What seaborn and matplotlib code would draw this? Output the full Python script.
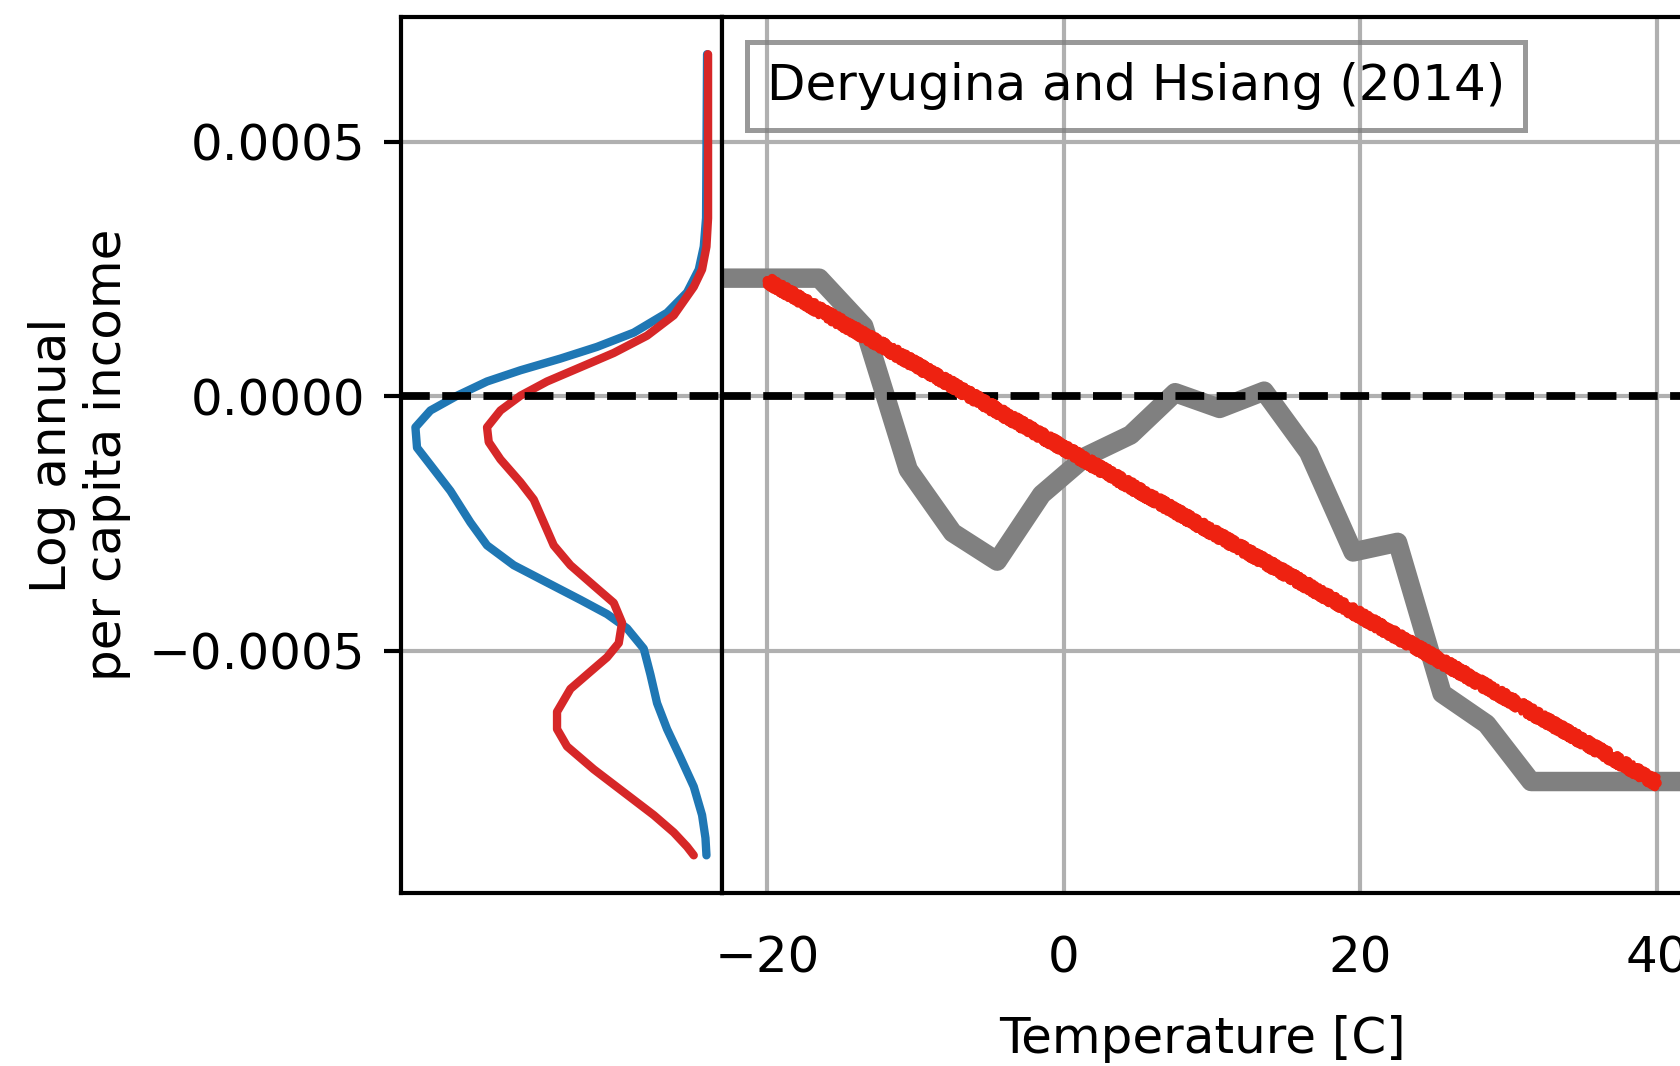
import numpy as np
import pandas as pd
import matplotlib
matplotlib.use("Agg")
import matplotlib.pyplot as plt
import seaborn as sns
from matplotlib.lines import Line2D

# ---------------- data ----------------
# Main panel: binned temperature response (gray) and linear fit (red)
temperature_bins = [-25.5, -22.5, -19.5, -16.5, -13.5, -10.5, -7.5, -4.5, -1.5,
                    1.5, 4.5, 7.5, 10.5, 13.5, 16.5, 19.5, 22.5, 25.5, 28.5,
                    31.5, 34.5, 37.5, 40.5, 43.5]
income_effect = [232e-6, 232e-6, 232e-6, 232e-6, 138e-6, -144e-6, -268e-6, -324e-6,
                 -193e-6, -118e-6, -76e-6, 7e-6, -24e-6, 10e-6, -110e-6, -306e-6,
                 -287e-6, -584e-6, -644e-6, -757e-6, -757e-6, -757e-6, -757e-6, -757e-6]
fit_temperature = [-20, 40]
fit_effect = [227e-6, -760e-6]

# Left panel: distributions of the effect (vertical profiles)
red_y = [672, 350, 294, 249, 215, 159, 119, 85, 57, 29, 1, -28, -61, -90, -124,
         -169, -203, -248, -293, -332, -372, -406, -445, -485, -513, -541, -575,
         -620, -654, -688, -733, -778, -823, -857, -885, -902]
red_density = [0.007, 0.007, 0.023, 0.067, 0.15, 0.35, 0.617, 0.95, 1.283, 1.617,
               1.883, 2.083, 2.217, 2.2, 2.083, 1.883, 1.75, 1.65, 1.55, 1.383,
               1.15, 0.95, 0.867, 0.9, 1.017, 1.183, 1.383, 1.517, 1.517, 1.417,
               1.15, 0.85, 0.55, 0.35, 0.217, 0.15]
blue_y = [672, 350, 294, 249, 204, 164, 125, 97, 74, 51, 29, 1, -28, -61, -101,
          -135, -186, -248, -293, -332, -366, -400, -428, -456, -496, -547, -603,
          -654, -710, -767, -823, -868, -902]
blue_density = [0.017, 0.027, 0.05, 0.1, 0.217, 0.417, 0.75, 1.117, 1.483, 1.883,
                2.217, 2.517, 2.783, 2.933, 2.917, 2.783, 2.583, 2.383, 2.217, 1.95,
                1.617, 1.283, 1.017, 0.817, 0.65, 0.583, 0.517, 0.417, 0.283, 0.15,
                0.067, 0.033, 0.023]

y_ticks = [-0.0005, 0.0, 0.0005]
y_tick_labels = ["\u22120.0005", "0.0000", "0.0005"]
x_ticks = [-20, 0, 20, 40]
x_tick_labels = ["\u221220", "0", "20", "40"]

# ---------------- style ----------------
sns.set_theme(style="white")
plt.rcParams["font.family"] = ["DejaVu Sans"]
plt.rcParams["font.size"] = 18

FS = 18
GRID = "#b0b0b0"
GRID_LW = 1.5
SPINE_LW = 1.5

fig = plt.figure(figsize=(8.4, 5.33), dpi=200)
ax_l = fig.add_axes([0.2387, 0.1623, 0.1911, 0.8217])
ax_m = fig.add_axes([0.4298, 0.1623, 0.5714, 0.8217], sharey=ax_l)

# ---------------- left panel ----------------
df_blue = pd.DataFrame({"density": blue_density, "y": np.array(blue_y) * 1e-6})
df_red = pd.DataFrame({"density": red_density, "y": np.array(red_y) * 1e-6})
sns.lineplot(data=df_blue, x="density", y="y", sort=False, estimator=None,
             color="#1f77b4", lw=3, ax=ax_l, zorder=3)
sns.lineplot(data=df_red, x="density", y="y", sort=False, estimator=None,
             color="#d62728", lw=3, ax=ax_l, zorder=4)
ax_l.axhline(0, color="black", ls="--", lw=2.8, zorder=5)
ax_l.set_xlim(3.077, -0.133)
ax_l.set_ylim(-0.000976, 0.000745)
ax_l.set_yticks(y_ticks, y_tick_labels)
ax_l.tick_params(axis="y", left=True, direction="out", length=6, width=SPINE_LW,
                 pad=7, labelsize=FS, color="black", labelcolor="black")
ax_l.tick_params(axis="x", bottom=False, labelbottom=False)
ax_l.yaxis.grid(True, color=GRID, lw=GRID_LW, zorder=0)
ax_l.xaxis.grid(False)
ax_l.set_axisbelow(True)
ax_l.set_xlabel("")
ax_l.set_ylabel("Log annual\nper capita income", fontsize=FS, color="black")
ax_l.yaxis.set_label_coords(-0.84, 0.5)
for sp in ax_l.spines.values():
    sp.set_color("black")
    sp.set_linewidth(SPINE_LW)

# ---------------- main panel ----------------
df_main = pd.DataFrame({"T": temperature_bins, "effect": income_effect})
sns.lineplot(data=df_main, x="T", y="effect", color="#808080", lw=7,
             ax=ax_m, zorder=2, solid_joinstyle="round", solid_capstyle="butt")
ax_m.axhline(0, color="black", ls="--", lw=2.8, zorder=3)
df_fit = pd.DataFrame({"T": fit_temperature, "effect": fit_effect})
sns.lineplot(data=df_fit, x="T", y="effect", color="#ee2211", lw=3.4,
             ax=ax_m, zorder=4)
sns.lineplot(data=df_fit, x="T", y="effect", color="#ee2211", lw=3.2,
             ax=ax_m, zorder=4)
ax_m.lines[-1].set_sketch_params(scale=4.5, length=4, randomness=4)
sns.lineplot(data=df_fit, x="T", y="effect", color="#ee2211", lw=2.4,
             ax=ax_m, zorder=4)
ax_m.lines[-1].set_sketch_params(scale=5.5, length=3, randomness=5)
sns.lineplot(data=df_fit, x="T", y="effect", color="#ee2211", lw=1.8,
             ax=ax_m, zorder=4)
ax_m.lines[-1].set_sketch_params(scale=6.0, length=2.5, randomness=6)

ax_m.set_xlim(-23.05, 41.68)
ax_m.set_xticks(x_ticks, x_tick_labels)
ax_m.tick_params(axis="x", bottom=True, length=0, pad=15, labelsize=FS,
                 labelcolor="black")
ax_m.tick_params(axis="y", left=False, labelleft=False)
ax_m.grid(True, color=GRID, lw=GRID_LW, zorder=0)
ax_m.set_axisbelow(True)
ax_m.set_ylabel("")
ax_m.set_xlabel("Temperature [C]", fontsize=FS, color="black", labelpad=11.5)
for sp in ax_m.spines.values():
    sp.set_color("black")
    sp.set_linewidth(SPINE_LW)

leg = ax_m.legend(handles=[Line2D([], [], linestyle="none")],
                  labels=["Deryugina and Hsiang (2014)"], loc="upper left",
                  handlelength=0, handletextpad=0, frameon=True, fancybox=False,
                  fontsize=FS, borderaxespad=0.5)
leg.get_frame().set_facecolor("none")
leg.get_frame().set_edgecolor("#808080")
leg.get_frame().set_linewidth(1.8)
for t in leg.get_texts():
    t.set_color("black")

fig.savefig("out.png", dpi=200)
